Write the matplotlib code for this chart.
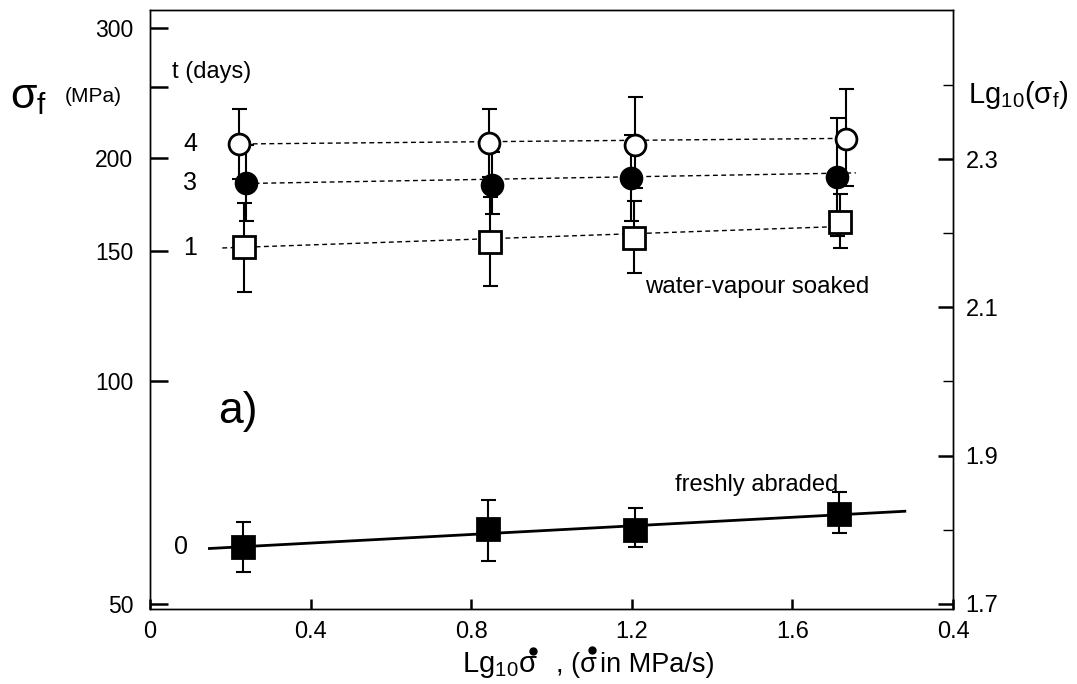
import numpy as np
import matplotlib
matplotlib.use("Agg")
import matplotlib.pyplot as plt
from matplotlib.lines import Line2D
from matplotlib.ticker import FixedLocator, FixedFormatter, NullLocator

plt.rcParams['font.family'] = ['Liberation Sans', 'DejaVu Sans']
plt.rcParams['mathtext.fontset'] = 'custom'
plt.rcParams['mathtext.rm'] = 'Liberation Sans'
plt.rcParams['mathtext.it'] = 'Liberation Sans'

# t = 4 days (open circles)
x_4d = [0.222, 0.845, 1.208, 1.733]
y_4d = [209.2, 209.9, 208.6, 212.4]
lo_4d = [187.6, 188.8, 182.5, 183.6]
hi_4d = [233.3, 233.3, 242.1, 248.2]

# t = 3 days (filled circles)
x_3d = [0.24, 0.8525, 1.198, 1.71]
y_3d = [185.3, 184.2, 188.2, 188.8]
lo_3d = [164.7, 168.3, 164.7, 157.2]
hi_3d = [208.6, 204.1, 215.2, 226.9]

# t = 1 day (open squares)
x_1d = [0.235, 0.847, 1.205, 1.718]
y_1d = [151.9, 154.3, 156.2, 164.2]
lo_1d = [132.1, 134.6, 140.1, 151.4]
hi_1d = [174.1, 177.4, 175.2, 179.1]

# t = 0 (freshly abraded, filled squares)
x_0d = [0.2325, 0.843, 1.207, 1.717]
y_0d = [59.8, 63.2, 63.0, 66.2]
lo_0d = [55.3, 57.2, 59.8, 62.5]
hi_0d = [64.6, 69.2, 67.5, 71.0]

# fitted lines (end points)
fit_x_4d = [0.235, 1.71]
fit_y_4d = [209.2, 212.8]
fit_x_3d = [0.24, 1.758]
fit_y_3d = [185.0, 191.2]
fit_x_1d = [0.18, 1.755]
fit_y_1d = [151.4, 162.1]
fit_x_0d = [0.148, 1.88]
fit_y_0d = [59.5, 66.8]

x_ticks = [0, 0.4, 0.8, 1.2, 1.6, 2.0]
x_ticklabels = ['0', '0.4', '0.8', '1.2', '1.6', '0.4']
y_ticks = [50, 100, 150, 200, 250, 300]
y_ticklabels = ['50', '100', '150', '200', '', '300']
r_ticks = [1.7, 1.9, 2.1, 2.3]
r_minor = [1.8, 2.0, 2.2, 2.4]

W, H = 1077, 684
fig = plt.figure(figsize=(W / 100, H / 100), dpi=100)
ax = fig.add_axes([150 / W, 1 - 609 / H, 803 / W, 599 / H])

ax.set_yscale('log')
ax.set_xlim(0, 2.0)
ax.set_ylim(49.3, 317.2)

dash = (0, (3.5, 2.5))
ax.plot(fit_x_4d, fit_y_4d, color='black', lw=1.0, linestyle=dash, zorder=1)
ax.plot(fit_x_3d, fit_y_3d, color='black', lw=1.0, linestyle=dash, zorder=1)
ax.plot(fit_x_1d, fit_y_1d, color='black', lw=1.0, linestyle=dash, zorder=1)
ax.plot(fit_x_0d, fit_y_0d, color='black', lw=2.0, zorder=1)

series = [
    (x_4d, y_4d, lo_4d, hi_4d, 'o', 'white', 15),
    (x_3d, y_3d, lo_3d, hi_3d, 'o', 'black', 15),
    (x_1d, y_1d, lo_1d, hi_1d, 's', 'white', 16.5),
    (x_0d, y_0d, lo_0d, hi_0d, 's', 'black', 16.5),
]
for xs, ys, lo, hi, mk, fc, ms in series:
    ys = np.array(ys)
    yerr = [ys - np.array(lo), np.array(hi) - ys]
    ax.errorbar(xs, ys, yerr=yerr, fmt='none', ecolor='black',
                elinewidth=1.5, capsize=5.4, capthick=1.5, zorder=2)
    ax.plot(xs, ys, linestyle='none', marker=mk, markersize=ms,
            markerfacecolor=fc, markeredgecolor='black',
            markeredgewidth=2.0, zorder=3)

# axes styling
for s in ax.spines.values():
    s.set_linewidth(1.0)

ax.xaxis.set_major_locator(FixedLocator(x_ticks))
ax.xaxis.set_major_formatter(FixedFormatter(x_ticklabels))
ax.yaxis.set_major_locator(FixedLocator(y_ticks))
ax.yaxis.set_major_formatter(FixedFormatter(y_ticklabels))
ax.yaxis.set_minor_locator(NullLocator())
ax.tick_params(axis='x', direction='in', length=7, width=1.8,
               labelsize=17, pad=9)
ax.tick_params(axis='y', direction='in', length=13, width=1.8,
               labelsize=16.5, pad=12)

ax2 = ax.twinx()
ax2.set_ylim(np.log10(ax.get_ylim()))
ax2.yaxis.set_major_locator(FixedLocator(r_ticks))
ax2.yaxis.set_minor_locator(FixedLocator(r_minor))
ax2.yaxis.set_major_formatter(FixedFormatter(['1.7', '1.9', '2.1', '2.3']))
ax2.tick_params(axis='y', which='major', direction='in', length=11,
                width=1.8, labelsize=17, pad=9)
ax2.tick_params(axis='y', which='minor', direction='in', length=7,
                width=1.0)
for s in ax2.spines.values():
    s.set_linewidth(1.0)

# labels inside the plot
ax.text(0.055, 261.7, 't (days)', fontsize=17, va='center', ha='left')
ax.text(0.1, 209, '4', fontsize=18, va='center', ha='center')
ax.text(0.1, 185, '3', fontsize=18, va='center', ha='center')
ax.text(0.1, 151.4, '1', fontsize=18, va='center', ha='center')
ax.text(0.077, 59.8, '0', fontsize=18, va='center', ha='center')
ax.text(1.2325, 134.2, 'water-vapour soaked', fontsize=17.3,
        va='center', ha='left')
ax.text(1.3075, 72.5, 'freshly abraded', fontsize=17, va='center', ha='left')
fig.text(218 / W, 1 - 423 / H, 'a)', fontsize=32, ha='left', va='baseline')

# axis titles
fig.text(10 / W, 1 - 97 / H, r'$\mathregular{\sigma_f}$', fontsize=31,
         ha='left', va='center')
fig.text(65 / W, 1 - 97 / H, '(MPa)', fontsize=15, ha='left', va='center')
fig.text(968 / W, 1 - 95 / H, r'$\mathregular{Lg_{10}(\sigma_f)}$',
         fontsize=21, ha='left', va='center')

# x label; the rate dot is drawn as a small disc above each sigma
base = 1 - 672 / H
t1 = fig.text(462 / W, base, r'$\mathregular{Lg_{10}\sigma}$',
              fontsize=21, ha='left', va='baseline')
t2 = fig.text(556 / W, base, ', (\u03c3', fontsize=19.5,
              ha='left', va='baseline')
fig.canvas.draw()
r = fig.canvas.get_renderer()
b1 = t1.get_window_extent(r)
b2 = t2.get_window_extent(r)
for bb, dy in [(b1, 29), (b2, 28)]:
    fig.add_artist(Line2D([(bb.x1 - 5) / W], [(bb.y0 + dy) / H],
                          transform=fig.transFigure, marker='o',
                          markersize=5, color='black', linestyle='none'))
fig.text((b2.x1 + 3) / W, base, 'in MPa/s)', fontsize=19.5,
         ha='left', va='baseline')

fig.savefig('out.png', dpi=100)
